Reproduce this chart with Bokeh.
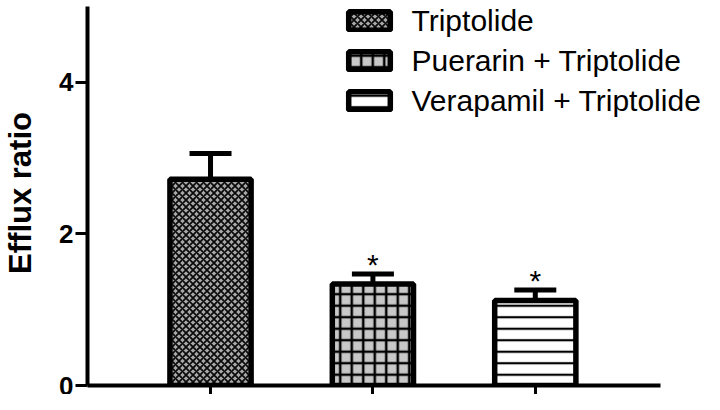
from bokeh.plotting import figure
from bokeh.models import (Range1d, FixedTicker, Whisker, TeeHead, ColumnDataSource, Legend)
from bokeh.core.properties import value
from bokeh.embed import file_html
from bokeh.resources import INLINE

# ---------------- data ----------------
groups = ["Triptolide", "Puerarin + Triptolide", "Verapamil + Triptolide"]
x_pos = [1, 2, 3]
means = [2.72, 1.34, 1.12]
sems = [0.34, 0.13, 0.14]
sig = ["", "*", "*"]
y_ticks = [0, 2, 4]
x_tick_labels = {1: "", 2: "", 3: ""}

upper = [m + s for m, s in zip(means, sems)]

FONT = "Liberation Sans"

p = figure(width=704, height=394, output_backend="svg", toolbar_location=None,
           x_range=Range1d(0.2424, 4.042), y_range=Range1d(0, 5.08),
           min_border_left=77, min_border_right=0, min_border_top=0, min_border_bottom=1)
p.outline_line_color = None
p.xgrid.visible = False
p.ygrid.visible = False
p.background_fill_color = "white"

styles = [
    dict(fill_color="#a8a8a8", hatch_pattern="diagonal_cross", hatch_color="#0a0a0a",
         hatch_scale=7, hatch_weight=1.8),
    dict(fill_color="#c8c8c8", hatch_pattern="cross", hatch_color="black", hatch_scale=11.5, hatch_weight=2.5),
    dict(fill_color="white", hatch_pattern="horizontal_line", hatch_color="black", hatch_scale=11.5, hatch_weight=2.2),
]

items = []
for i in range(3):
    r = p.vbar(x=[x_pos[i]], top=[means[i]], bottom=0, width=0.5,
               line_color="black", line_width=5.5, **styles[i])
    items.append((groups[i], [r]))

src = ColumnDataSource(dict(x=x_pos, top=means, upper=upper, sig=sig))
w = Whisker(base="x", lower="top", upper="upper", source=src, dimension="height",
            line_color="black", line_width=5, lower_head=None,
            upper_head=TeeHead(size=42, line_width=5, line_color="black"))
p.add_layout(w)

p.text(x="x", y="upper", text="sig", source=src, text_font=value(FONT),
       text_font_size="30px", text_align="center", text_baseline="alphabetic",
       y_offset=-10, text_color="black")

legend = Legend(items=items, location=(255.5, 264.5), glyph_width=52, glyph_height=23,
                label_height=40, spacing=0, padding=0, margin=0, label_standoff=17,
                label_text_font=FONT, label_text_font_size="30px", label_text_color="black",
                border_line_alpha=0, background_fill_alpha=0)
p.add_layout(legend, "center")

# axes
ya = p.yaxis[0]
ya.ticker = FixedTicker(ticks=y_ticks, minor_ticks=[])
ya.bounds = (0, 5)
ya.axis_line_width = 4
ya.major_tick_line_width = 3
ya.major_tick_out = 12
ya.major_tick_in = 0
ya.minor_tick_out = 0
ya.major_label_standoff = 2
ya.major_label_text_font = FONT
ya.major_label_text_font_style = "bold"
ya.major_label_text_font_size = "26px"
ya.major_label_text_color = "black"
ya.axis_label = "Efflux ratio"
ya.axis_label_text_font = FONT
ya.axis_label_text_font_style = "bold"
ya.axis_label_text_font_size = "31px"
ya.axis_label_text_color = "black"
ya.axis_label_standoff = 18

xa = p.xaxis[0]
xa.ticker = FixedTicker(ticks=x_pos, minor_ticks=[])
xa.bounds = (0.2424, 3.77)
xa.axis_line_width = 4
xa.major_tick_line_width = 3
xa.major_tick_out = 9
xa.major_tick_in = 0
xa.minor_tick_out = 0
xa.major_label_standoff = 0
xa.major_label_overrides = x_tick_labels
xa.major_label_text_color = None

open("out.html", "w").write(file_html(p, INLINE))
